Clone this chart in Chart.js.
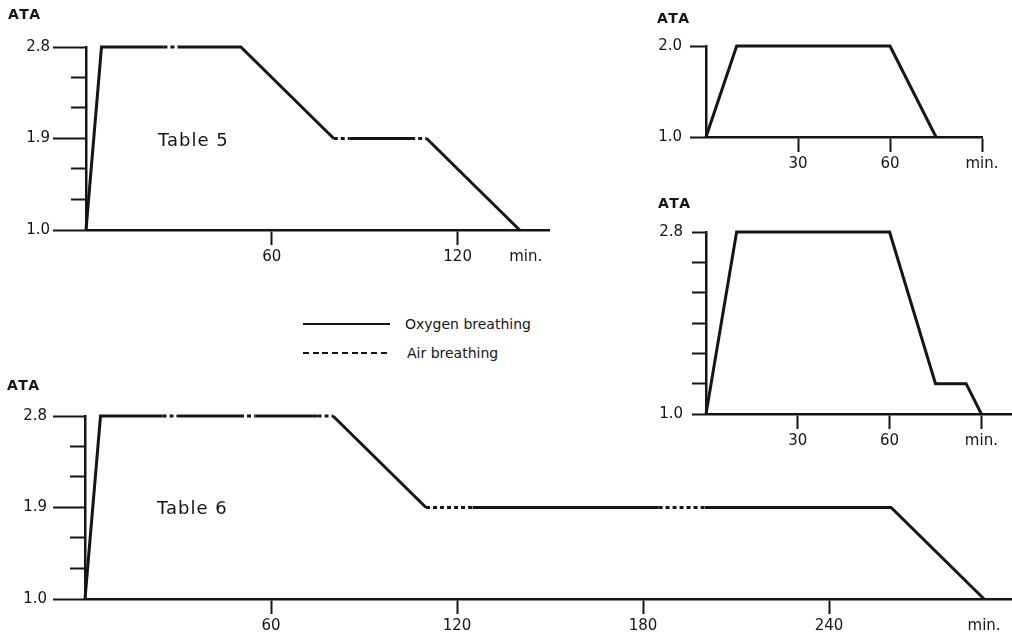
<!DOCTYPE html>
<html>
<head>
<meta charset="utf-8">
<title>Treatment tables</title>
<script src="https://cdn.jsdelivr.net/npm/chart.js@4.4.1/dist/chart.umd.min.js"></script>
<style>
  html, body { margin: 0; padding: 0; background: #fff; }
  #stage { position: relative; width: 1012px; height: 634px; overflow: hidden;
           font-family: 'DejaVu Sans', sans-serif; color: #151515; }
  #stage canvas { position: absolute; }
  .ata { position: absolute; font-size: 14px; font-weight: bold; letter-spacing: 1.5px; line-height: 14px; }
  .table-name { position: absolute; font-size: 18px; letter-spacing: 1px; line-height: 18px; }
  .legend-row { position: absolute; left: 303px; height: 16px; display: flex; align-items: center;
                font-size: 14px; line-height: 14px; white-space: nowrap; }
  .legend-row .sample { width: 87px; height: 2px; margin-right: 15px; }
  .legend-row .sample.oxygen { background: #151515; }
  .legend-row .sample.air { margin-right: 17px;
       background: repeating-linear-gradient(to right, #151515 0 6px, transparent 6px 9.7px); }
</style>
</head>
<body>
<div id="stage">
  <canvas id="table5" width="560" height="280" style="left:0;top:0"></canvas>
  <canvas id="upperRight" width="382" height="185" style="left:630px;top:0"></canvas>
  <canvas id="lowerRight" width="382" height="260" style="left:630px;top:190px"></canvas>
  <canvas id="table6" width="1012" height="264" style="left:0;top:370px"></canvas>

  <div class="ata" style="left:8px;top:7px">ATA</div>
  <div class="ata" style="left:657px;top:11px">ATA</div>
  <div class="ata" style="left:658px;top:196px">ATA</div>
  <div class="ata" style="left:7px;top:378px">ATA</div>

  <div class="table-name" style="left:158px;top:131px">Table 5</div>
  <div class="table-name" style="left:157px;top:499px">Table 6</div>

  <div class="legend-row" style="top:316px"><span class="sample oxygen"></span>Oxygen breathing</div>
  <div class="legend-row" style="top:345px"><span class="sample air"></span>Air breathing</div>
</div>

<script>
// ---- profile data (minutes / ATA); air = 1 where the segment starting at that point is air breathing ----
const table5Time = [0, 5, 25, 30, 50, 80, 85, 105, 110, 140];
const table5Ata  = [1.0, 2.8, 2.8, 2.8, 2.8, 1.9, 1.9, 1.9, 1.9, 1.0];
const table5Air  = [0, 0, 1, 0, 0, 1, 0, 1, 0];

const table6Time = [0, 5, 25, 30, 50, 55, 75, 80, 110, 125, 185, 200, 260, 290];
const table6Ata  = [1.0, 2.8, 2.8, 2.8, 2.8, 2.8, 2.8, 2.8, 1.9, 1.9, 1.9, 1.9, 1.9, 1.0];
const table6Air  = [0, 0, 1, 0, 1, 0, 1, 0, 1, 0, 1, 0, 0];

const upperRightTime = [0, 10, 60, 75];
const upperRightAta  = [1.0, 2.0, 2.0, 1.0];
const upperRightAir  = [0, 0, 0];

const lowerRightTime = [0, 10, 60, 75, 85, 90];
const lowerRightAta  = [1.0, 2.8, 2.8, 1.3, 1.3, 1.0];
const lowerRightAir  = [0, 0, 0, 0, 0];

// ---- tick values and labels ----
const ataTicksFine   = [1.0, 1.3, 1.6, 1.9, 2.2, 2.5, 2.8];
const ataTicksTwo    = [1.0, 2.0];
const ataLabelsThree = [1.0, 1.9, 2.8];
const ataLabelsEnds  = [1.0, 2.8];

const table5MinTicks  = [60, 120, 142];
const table5MinLabels = ['60', '120', 'min.'];
const table6MinTicks  = [60, 120, 180, 240, 290];
const table6MinLabels = ['60', '120', '180', '240', 'min.'];
const shortMinTicks   = [30, 60, 90];
const shortMinLabels  = ['30', '60', 'min.'];

const INK = '#151515';
const AIR_DASH = [4, 3];

Chart.defaults.font.family = "'DejaVu Sans', sans-serif";
Chart.defaults.font.size = 15;
Chart.defaults.color = INK;

/**
 * Draw one pressure/time profile into its canvas
 * @param {string} canvasId - target canvas
 * @param {Object} spec - data arrays plus the chart area it has to fill
 */
function drawProfile(canvasId, spec) {
    const canvas = document.getElementById(canvasId);
    const W = canvas.width;
    const H = canvas.height;
    const area = spec.area;
    const labelAxisWidth = area.left - spec.minorTick;

    const points = spec.time.map((t, i) => ({ x: t, y: spec.ata[i] }));
    const setTicks = values => scale => { scale.ticks = values.map(v => ({ value: v })); };

    return new Chart(canvas.getContext('2d'), {
        type: 'line',
        data: {
            datasets: [{
                data: points,
                borderColor: INK,
                borderWidth: 3,
                pointRadius: 0,
                tension: 0,
                fill: false,
                clip: false,
                borderJoinStyle: 'miter',
                segment: {
                    borderDash: ctx => spec.air[ctx.p0DataIndex] ? AIR_DASH : undefined
                }
            }]
        },
        options: {
            responsive: false,
            animation: false,
            events: [],
            layout: {
                autoPadding: false,
                padding: { left: 0, top: area.top, right: W - area.right, bottom: 0 }
            },
            plugins: {
                legend: { display: false },
                tooltip: { enabled: false }
            },
            scales: {
                x: {
                    type: 'linear',
                    min: 0,
                    max: spec.xMax,
                    afterBuildTicks: setTicks(spec.xTicks),
                    afterFit: scale => { scale.height = H - area.bottom; },
                    border: { display: true, color: INK, width: 2.5 },
                    grid: {
                        drawOnChartArea: false,
                        tickLength: 15,
                        tickWidth: 2,
                        // no tick mark under "min." unless the axis ends there
                        tickColor: ctx => (spec.xLabels[ctx.index] === 'min.' && !spec.endMark) ? 'rgba(0,0,0,0)' : INK
                    },
                    ticks: {
                        autoSkip: false,
                        maxRotation: 0,
                        padding: 3,
                        callback: (value, index) => spec.xLabels[index]
                    }
                },
                // short tick marks, sits against the plot
                y: {
                    type: 'linear',
                    position: 'left',
                    weight: 0,
                    min: 1.0,
                    max: spec.yMax,
                    afterBuildTicks: setTicks(spec.yTicks),
                    afterFit: scale => { scale.width = spec.minorTick; },
                    border: { display: true, color: INK, width: 2.5 },
                    grid: { drawOnChartArea: false, tickLength: spec.minorTick, tickWidth: 2, tickColor: INK },
                    ticks: { display: false }
                },
                // labelled values, their ticks continue the short ones outward
                yLabel: {
                    type: 'linear',
                    position: 'left',
                    weight: 1,
                    min: 1.0,
                    max: spec.yMax,
                    afterBuildTicks: setTicks(spec.yLabels),
                    afterFit: scale => { scale.width = labelAxisWidth; },
                    border: { display: false },
                    grid: {
                        drawOnChartArea: false,
                        drawTicks: spec.majorTick > 0,
                        tickLength: spec.majorTick,
                        tickWidth: 2,
                        tickColor: INK
                    },
                    ticks: {
                        padding: labelAxisWidth - spec.majorTick - spec.labelRight,
                        callback: value => Number(value).toFixed(1)
                    }
                }
            }
        }
    });
}

drawProfile('table5', {
    time: table5Time, ata: table5Ata, air: table5Air,
    xMax: 149.5, xTicks: table5MinTicks, xLabels: table5MinLabels, endMark: false,
    yMax: 2.8, yTicks: ataTicksFine, yLabels: ataLabelsThree,
    area: { left: 86, right: 549, top: 47, bottom: 230 },
    minorTick: 15, majorTick: 18, labelRight: 50
});

drawProfile('upperRight', {
    time: upperRightTime, ata: upperRightAta, air: upperRightAir,
    xMax: 90, xTicks: shortMinTicks, xLabels: shortMinLabels, endMark: true,
    yMax: 2.0, yTicks: ataTicksTwo, yLabels: ataTicksTwo,
    area: { left: 76, right: 352, top: 46, bottom: 137 },
    minorTick: 16, majorTick: 0, labelRight: 52
});

drawProfile('lowerRight', {
    time: lowerRightTime, ata: lowerRightAta, air: lowerRightAir,
    xMax: 100, xTicks: shortMinTicks, xLabels: shortMinLabels, endMark: true,
    yMax: 2.8, yTicks: ataTicksFine, yLabels: ataLabelsEnds,
    area: { left: 76, right: 382, top: 42, bottom: 224 },
    minorTick: 14, majorTick: 0, labelRight: 53
});

drawProfile('table6', {
    time: table6Time, ata: table6Ata, air: table6Air,
    xMax: 299, xTicks: table6MinTicks, xLabels: table6MinLabels, endMark: false,
    yMax: 2.8, yTicks: ataTicksFine, yLabels: ataLabelsThree,
    area: { left: 85, right: 1012, top: 46, bottom: 229 },
    minorTick: 15, majorTick: 17, labelRight: 47
});
</script>
</body>
</html>
